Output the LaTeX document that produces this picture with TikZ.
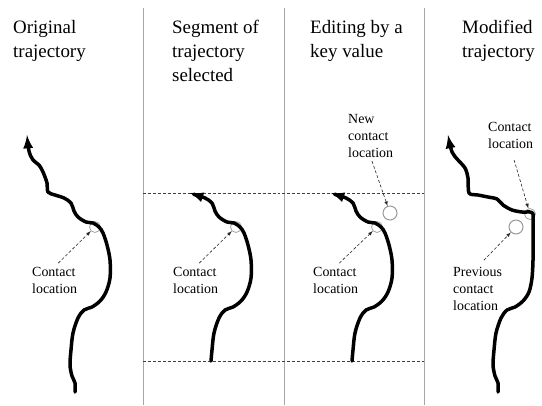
\documentclass[tikz,border=0pt]{standalone}
\usepackage{fontspec}
\setmainfont{Liberation Serif}

\tikzset{
  head/.style={anchor=base west,align=left,inner sep=0pt,font=\fontsize{19}{24}\selectfont},
  note/.style={anchor=base west,align=left,inner sep=0pt,font=\fontsize{14}{17}\selectfont},
  traj/.style={line width=3.5bp,line cap=round,line join=round,-latex},
  pointer/.style={densely dashed,line width=0.6bp,gray!30!black,-latex},
  guide/.style={densely dashed,line width=0.6bp,gray!50!black},
  divider/.style={line width=1bp,gray!70},
  spot/.style={circle,draw=gray!70,line width=0.8bp,minimum size=11bp,inner sep=0pt},
  bigspot/.style={circle,draw=gray!80,line width=1bp,minimum size=14bp,inner sep=0pt}
}

\begin{document}
\begin{tikzpicture}[x=1bp,y=-1bp]
  \useasboundingbox (0,0) rectangle (542,405);

  % panel borders and selected segment
  \foreach \x in {143,284,424}
    \draw[divider] (\x,8) -- (\x,405);
  \draw[guide] (143,193) -- (424,193);
  \draw[guide] (143,361) -- (424,361);

  % titles (placed at the baseline of their last line)
  \node[head] (h1) at (13,57) {Original\\trajectory};
  \node[head] (h2) at (172,81) {Segment of\\trajectory\\selected};
  \node[head] (h3) at (310,57) {Editing by a\\key value};
  \node[head] (h4) at (462,57) {Modified\\trajectory};

  % contact spots
  \node[spot] (c1) at (95,227) {};
  \node[spot] (c2) at (236,227) {};
  \node[spot] (c3) at (377,227) {};
  \node[bigspot] (cnew) at (390,213) {};
  \node[spot] (c4) at (530,214) {};
  \node[bigspot] (cprev) at (516,227) {};

  % original trajectory
  \draw[traj] plot[smooth,tension=0.55] coordinates {(75,392) (75,383) (72,376) (70,365)
    (71,350) (73,333) (78,318) (84,310) (92,307) (100,301) (106,292) (110,278) (110,260)
    (107,245) (103,233) (99,227) (93,223) (86,222) (78,217) (74,211) (71,203) (64,198)
    (55,195) (48,192) (47,183) (43,172) (39,165) (33,160) (29,151) (27,135)};

  % selected segment
  \begin{scope}[xshift=141bp]
    \draw[traj] plot[smooth,tension=0.55] coordinates {(70,361) (71,350) (73,333) (78,318)
      (84,310) (92,307) (100,301) (106,292) (110,278) (110,260) (107,245) (103,233) (99,227)
      (93,223) (86,222) (78,217) (74,211) (71,203) (64,198) (55,195) (49,193)};
  \end{scope}

  % segment being edited
  \begin{scope}[xshift=282bp]
    \draw[traj] plot[smooth,tension=0.55] coordinates {(70,361) (71,350) (73,333) (78,318)
      (84,310) (92,307) (100,301) (106,292) (110,278) (110,260) (107,245) (103,233) (99,227)
      (93,223) (86,222) (78,217) (74,211) (71,203) (64,198) (55,195) (49,193)};
  \end{scope}

  % modified trajectory
  \begin{scope}[xshift=423bp]
    \draw[traj] plot[smooth,tension=0.5] coordinates {(75,392) (75,383) (72,376) (70,365)
      (71,350) (73,333) (78,318) (84,310) (92,307) (100,301) (106,292) (109,278) (110,260)
      (110,240) (110,222) (110,214) (107,212) (99,212) (89,210) (80,205) (74,199) (65,197)
      (55,195) (46,193) (45,178) (42,168) (35,160) (29,152) (25,135)};
  \end{scope}

  % labels (placed at the baseline of their last line)
  \node[note] (n1) at (32,293) {Contact\\location};
  \node[note] (n2) at (173,293) {Contact\\location};
  \node[note] (n3) at (313,293) {Contact\\location};
  \node[note] (n3new) at (348,157) {New\\contact\\location};
  \node[note] (n4) at (488,148) {Contact\\location};
  \node[note] (n4prev) at (453,310) {Previous\\contact\\location};

  \draw[pointer,shorten <=5bp] (n1.north) -- (c1);
  \draw[pointer,shorten <=5bp] (n2.north) -- (c2);
  \draw[pointer,shorten <=4bp] (n3new.south) -- (cnew);
  \draw[pointer,shorten <=5bp] (n3.north) -- (c3);
  \draw[pointer,shorten <=12bp] (n4.south) -- (c4);
  \draw[pointer,shorten <=9bp] (n4prev.north) -- (cprev);
\end{tikzpicture}
\end{document}
